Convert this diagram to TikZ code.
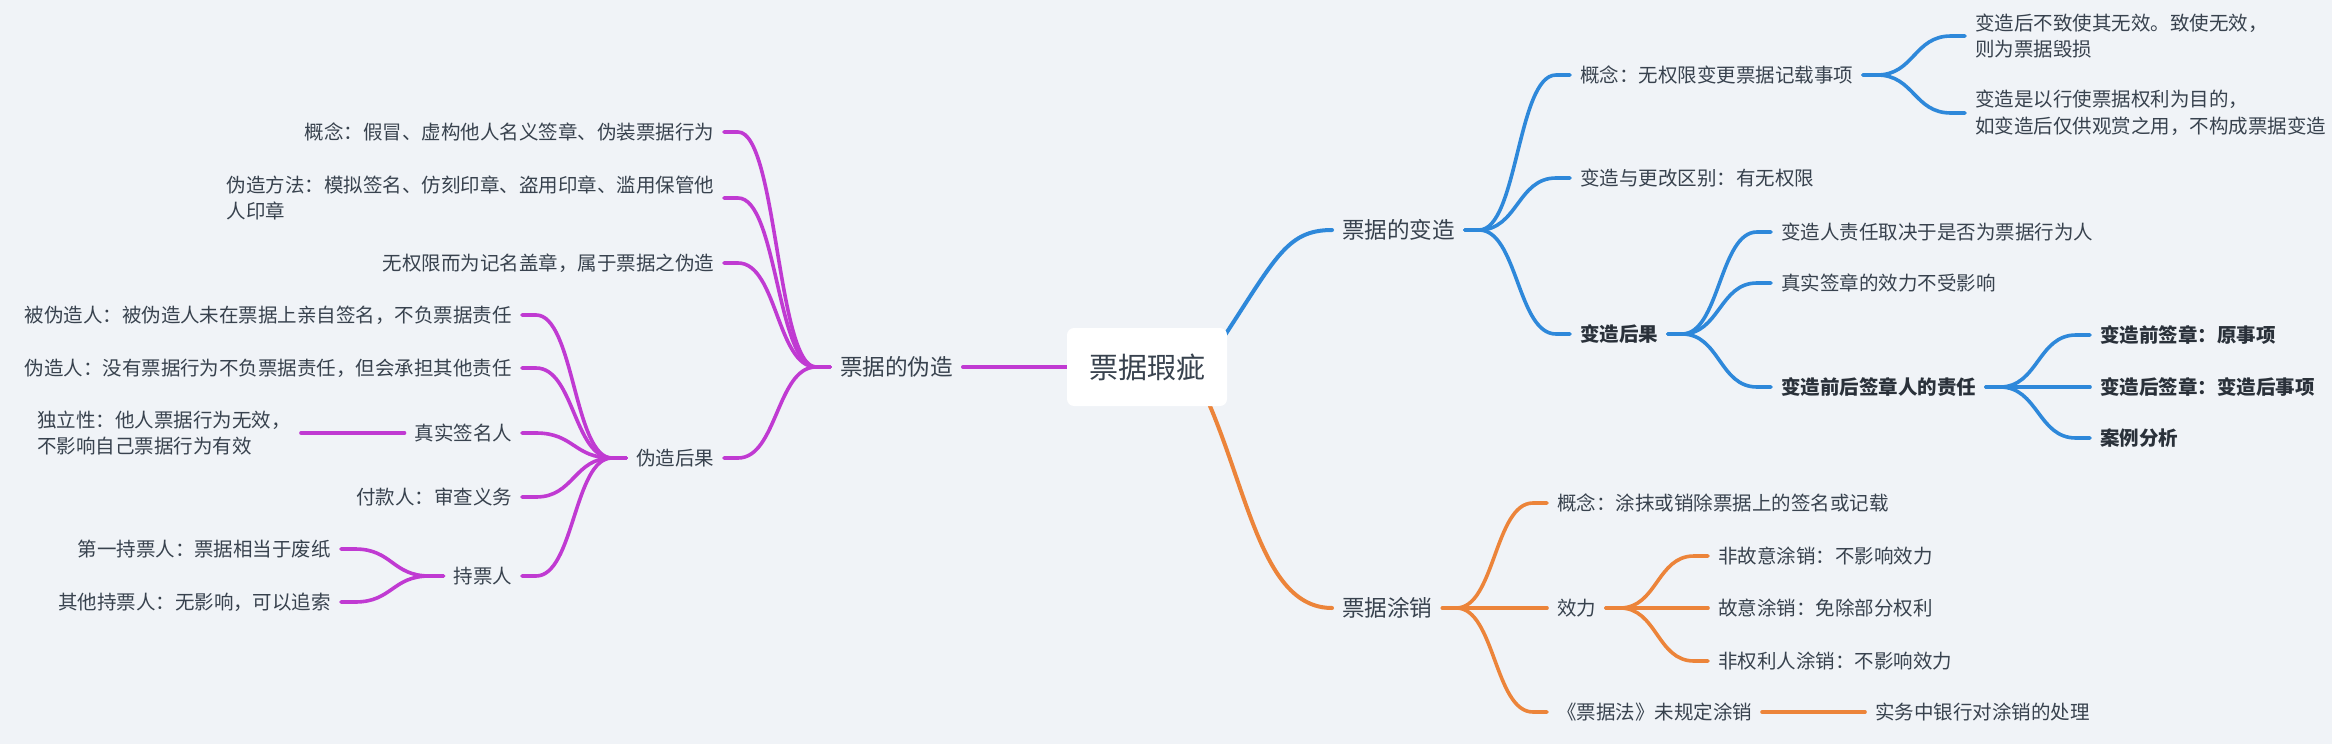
\documentclass[tikz,border=0pt]{standalone}
\usepackage{fontspec}
\setmainfont{Noto Sans CJK SC}
\usetikzlibrary{calc}
\definecolor{bgc}{HTML}{F0F3F7}
\definecolor{txt}{HTML}{38424E}
\definecolor{pur}{HTML}{C03AD2}
\definecolor{blu}{HTML}{2E88DA}
\definecolor{ora}{HTML}{EC843A}
\pgfdeclarelayer{bg}
\pgfsetlayers{bg,main}
\tikzset{
  tx/.style={inner sep=0pt, outer xsep=10pt, text=txt, font=\fontsize{19.5}{26.5}\selectfont, align=left},
  tl/.style={tx, anchor=west},
  tr/.style={tx, anchor=east},
  lvone/.style={font=\fontsize{22.6}{28}\selectfont},
  bd/.style={font=\fontsize{19.5}{26.5}\selectfont\bfseries, text=txt!75!black},
  cn/.style={line width=3.6pt, line cap=round},
  cnmain/.style={line width=4pt, line cap=round},
  pu/.style={cn, draw=pur},
  bl/.style={cn, draw=blu},
  og/.style={cn, draw=ora},
}
\newcommand\linkR[3]{\draw[#1] let \p1=(#2), \p2=(#3) in (\p1) -- (\x1+14pt,\y1) .. controls ({0.5*\x1+0.5*\x2},\y1) and ({0.5*\x1+0.5*\x2},\y2) .. (\x2-14pt,\y2) -- (\p2);}
\newcommand\linkL[3]{\draw[#1] let \p1=(#2), \p2=(#3) in (\p1) -- (\x1-14pt,\y1) .. controls ({0.5*\x1+0.5*\x2},\y1) and ({0.5*\x1+0.5*\x2},\y2) .. (\x2+14pt,\y2) -- (\p2);}
\begin{document}
\begin{tikzpicture}[x=1pt, y=-1pt]
\useasboundingbox (0,0) rectangle (2332,744);
\begin{pgfonlayer}{bg}
\fill[bgc] (0,0) rectangle (2332,744);
\end{pgfonlayer}
% root
\node[fill=white, rounded corners=7pt, minimum width=160pt, minimum height=78pt, inner sep=0pt, text=txt, font=\fontsize{29}{34}\selectfont] (root) at (1147,367) {票据瑕疵};
% ---------- left: forgery ----------
\node[tr, lvone] (fz) at (963,367) {票据的伪造};
\node[tr] (fz1) at (724,132) {概念：假冒、虚构他人名义签章、伪装票据行为};
\node[tr] (fz2) at (724,198) {伪造方法：模拟签名、仿刻印章、盗用印章、滥用保管他\\人印章};
\node[tr] (fz3) at (724,263) {无权限而为记名盖章，属于票据之伪造};
\node[tr] (fz4) at (724,458) {伪造后果};
\node[tr] (g1) at (522,315) {被伪造人：被伪造人未在票据上亲自签名，不负票据责任};
\node[tr] (g2) at (522,368) {伪造人：没有票据行为不负票据责任，但会承担其他责任};
\node[tr] (g3) at (522,433) {真实签名人};
\node[tr] (g3a) at (301,433) {独立性：他人票据行为无效，\\不影响自己票据行为有效};
\node[tr] (g4) at (522,497) {付款人：审查义务};
\node[tr] (g5) at (522,576) {持票人};
\node[tr] (h1) at (341,549) {第一持票人：票据相当于废纸};
\node[tr] (h2) at (341,602) {其他持票人：无影响，可以追索};
% ---------- right: alteration ----------
\node[tl, lvone] (bz) at (1332,230) {票据的变造};
\node[tl] (b1) at (1570,75) {概念：无权限变更票据记载事项};
\node[tl] (b1a) at (1965,36) {变造后不致使其无效。致使无效，\\则为票据毁损};
\node[tl] (b1b) at (1965,113) {变造是以行使票据权利为目的，\\如变造后仅供观赏之用，不构成票据变造};
\node[tl] (b2) at (1570,178) {变造与更改区别：有无权限};
\node[tl, bd] (b3) at (1570,334) {变造后果};
\node[tl] (c1) at (1771,232) {变造人责任取决于是否为票据行为人};
\node[tl] (c2) at (1771,283) {真实签章的效力不受影响};
\node[tl, bd] (c3) at (1771,387) {变造前后签章人的责任};
\node[tl, bd] (d1) at (2090,335) {变造前签章：原事项};
\node[tl, bd] (d2) at (2090,387) {变造后签章：变造后事项};
\node[tl, bd] (d3) at (2090,438) {案例分析};
% ---------- right: cancellation ----------
\node[tl, lvone] (tz) at (1332,608) {票据涂销};
\node[tl] (e1) at (1547,503) {概念：涂抹或销除票据上的签名或记载};
\node[tl] (e2) at (1547,608) {效力};
\node[tl] (f1) at (1708,556) {非故意涂销：不影响效力};
\node[tl] (f2) at (1708,608) {故意涂销：免除部分权利};
\node[tl] (f3) at (1708,661) {非权利人涂销：不影响效力};
\node[tl] (e3) at (1547,712) {《票据法》未规定涂销};
\node[tl] (e3a) at (1865,712) {实务中银行对涂销的处理};
% ---------- connectors ----------
\begin{pgfonlayer}{bg}
\coordinate (bstart) at ([xshift=-12pt,yshift=17pt]root.east);
\coordinate (ostart) at ([xshift=-22pt,yshift=-28pt]root.east);
\draw[cnmain, draw=pur] (fz.east) -- (root.west);
\draw[cnmain, draw=blu] (bstart) .. controls (1275,260) and (1285,230) .. (bz.west);
\draw[cnmain, draw=ora] (ostart) .. controls (1248,490) and (1262,608) .. (tz.west);
\linkL{pu}{fz.west}{fz1.east}
\linkL{pu}{fz.west}{fz2.east}
\linkL{pu}{fz.west}{fz3.east}
\linkL{pu}{fz.west}{fz4.east}
\linkL{pu}{fz4.west}{g1.east}
\linkL{pu}{fz4.west}{g2.east}
\linkL{pu}{fz4.west}{g3.east}
\linkL{pu}{fz4.west}{g4.east}
\linkL{pu}{fz4.west}{g5.east}
\draw[pu] (g3.west) -- (g3a.east);
\linkL{pu}{g5.west}{h1.east}
\linkL{pu}{g5.west}{h2.east}
\linkR{bl}{bz.east}{b1.west}
\linkR{bl}{bz.east}{b2.west}
\linkR{bl}{bz.east}{b3.west}
\linkR{bl}{b1.east}{b1a.west}
\linkR{bl}{b1.east}{b1b.west}
\linkR{bl}{b3.east}{c1.west}
\linkR{bl}{b3.east}{c2.west}
\linkR{bl}{b3.east}{c3.west}
\linkR{bl}{c3.east}{d1.west}
\linkR{bl}{c3.east}{d2.west}
\linkR{bl}{c3.east}{d3.west}
\linkR{og}{tz.east}{e1.west}
\linkR{og}{tz.east}{e2.west}
\linkR{og}{tz.east}{e3.west}
\linkR{og}{e2.east}{f1.west}
\linkR{og}{e2.east}{f2.west}
\linkR{og}{e2.east}{f3.west}
\draw[og] (e3.east) -- (e3a.west);
\end{pgfonlayer}
\end{tikzpicture}
\end{document}
